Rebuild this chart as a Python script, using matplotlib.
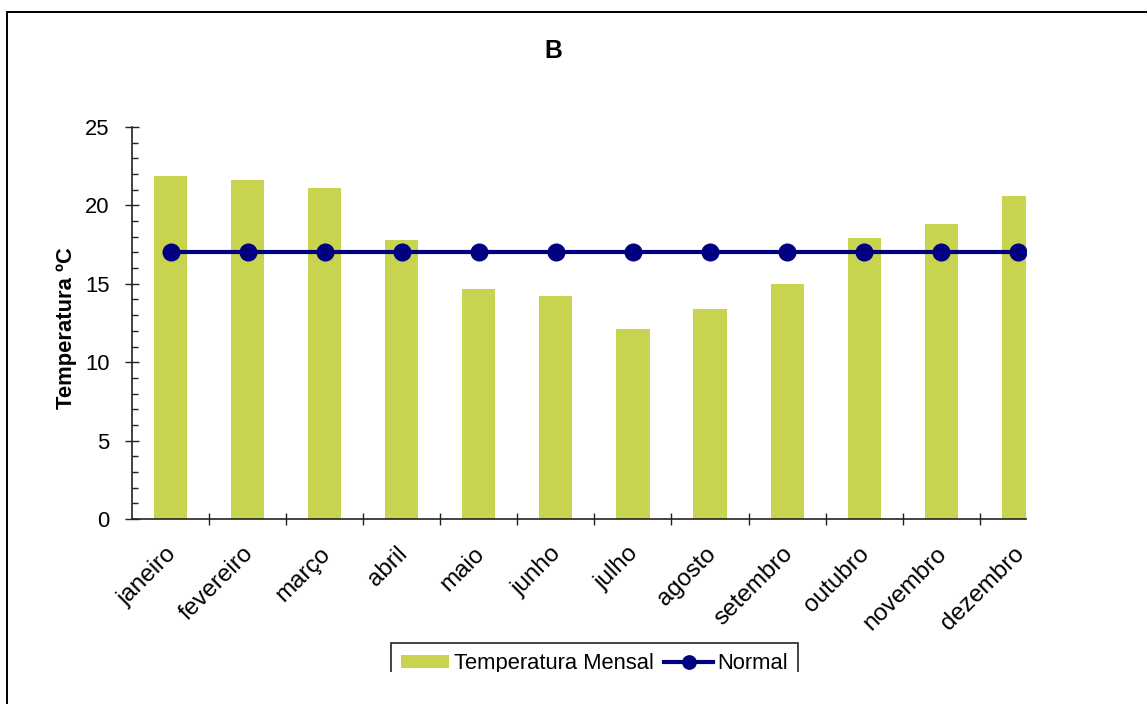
import numpy as np
import matplotlib
matplotlib.use('Agg')
import matplotlib.pyplot as plt
import matplotlib.transforms as mtransforms
from matplotlib.lines import Line2D
from matplotlib.patches import Rectangle

plt.rcParams['font.family'] = ['Liberation Sans', 'DejaVu Sans']

# data
months = ['janeiro', 'fevereiro', 'março', 'abril', 'maio', 'junho',
          'julho', 'agosto', 'setembro', 'outubro', 'novembro', 'dezembro']
temp_mensal = [21.9, 21.6, 21.1, 17.8, 14.7, 14.2, 12.1, 13.4, 15.0, 17.9, 18.8, 20.6]
normal = [17.0] * 12

W, H = 1147, 704
fig = plt.figure(figsize=(W / 100, H / 100), dpi=100)
fig.patch.set_facecolor('white')

ax = fig.add_axes([132 / W, 1 - 519 / H, (1026 - 132) / W, (519 - 127) / H])
x = np.arange(len(months))

bars = ax.bar(x, temp_mensal, width=0.43, color='#C8D350', label='Temperatura Mensal', zorder=2)
line, = ax.plot(x, normal, color='#000080', linewidth=3, marker='o', markersize=12,
                label='Normal', zorder=3)

ax.set_xlim(-0.5, 11.1)
ax.set_ylim(0, 25)

# spines
for side in ['top', 'right']:
    ax.spines[side].set_visible(False)
for side in ['left', 'bottom']:
    ax.spines[side].set_linewidth(1.2)
    ax.spines[side].set_color('#222222')

# y ticks
ax.set_yticks(np.arange(0, 26, 5))
ax.set_yticks(np.arange(0, 26, 1), minor=True)
ax.tick_params(axis='y', which='major', direction='inout', length=10, width=1,
               labelsize=15.8, pad=11, color='#222222')
ax.tick_params(axis='y', which='minor', direction='in', length=4.5, width=1, color='#222222')

# x ticks at category boundaries, labels at category centres
ax.set_xticks(np.arange(0.5, 11, 1))
ax.set_xticklabels([])
ax.set_xticks(x, minor=True)
ax.set_xticklabels(months, minor=True, rotation=45, ha='right', fontsize=17.5)
ax.tick_params(axis='x', which='major', direction='inout', length=9, width=1, color='#222222')
ax.tick_params(axis='x', which='minor', length=0, pad=17)
shift = mtransforms.ScaledTranslation(10 / 100, 0, fig.dpi_scale_trans)
for lbl in ax.get_xticklabels(minor=True):
    lbl.set_transform(lbl.get_transform() + shift)

ax.set_ylabel('Temperatura ºC', fontsize=15.8, fontweight='bold')
ax.yaxis.set_label_coords(-0.0615, 0.487)

fig.text(553 / W, 1 - 51 / H, 'B', ha='center', va='center', fontsize=17.8, fontweight='bold')

# legend
leg = ax.legend([bars, line], ['Temperatura Mensal', 'Normal'],
                loc='upper left', bbox_to_anchor=(391 / W, 1 - 643 / H),
                bbox_transform=fig.transFigure, borderaxespad=0, ncol=2,
                fontsize=15.8, frameon=True, fancybox=False, framealpha=1,
                edgecolor='#222222', handlelength=2.2, handletextpad=0.2,
                columnspacing=0.5, borderpad=0.45, handleheight=0.55, markerscale=0.8)
leg.get_frame().set_linewidth(1.2)

# the original image is cut off below the legend
fig.patches.append(Rectangle((380 / W, 0), 440 / W, (H - 672) / H, transform=fig.transFigure,
                             facecolor='white', edgecolor='none', zorder=10))

# outer border (top and left edges only)
fig.lines.append(Line2D([7 / W, 1], [1 - 12 / H, 1 - 12 / H], transform=fig.transFigure,
                        color='black', linewidth=1.4))
fig.lines.append(Line2D([7.5 / W, 7.5 / W], [0, 1 - 12 / H], transform=fig.transFigure,
                        color='black', linewidth=1.4))

fig.savefig('out.png', dpi=100)
